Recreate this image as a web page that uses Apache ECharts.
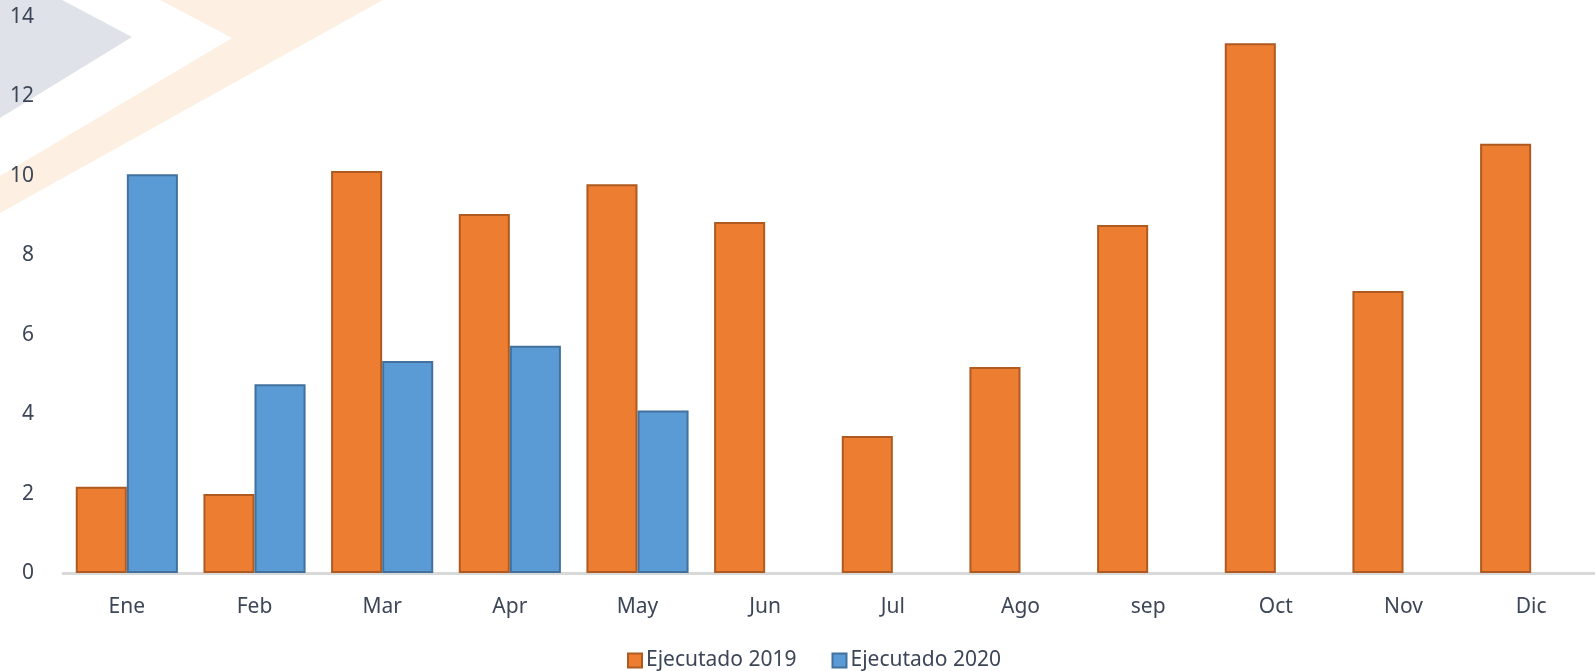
<!DOCTYPE html>
<html>
<head>
<meta charset="utf-8">
<script src="https://cdn.jsdelivr.net/npm/echarts@6/dist/echarts.min.js"></script>
<style>
html,body{margin:0;padding:0;background:#fff;}
#chart{width:1595px;height:671px;}
</style>
</head>
<body>
<div id="chart"></div>
<script>
const categories = ['Ene','Feb','Mar','Apr','May','Jun','Jul','Ago','sep','Oct','Nov','Dic'];
const ejecutado2019 = [2.17, 1.99, 10.12, 9.04, 9.79, 8.84, 3.45, 5.19, 8.76, 13.34, 7.10, 10.81];
const ejecutado2020 = [10.04, 4.75, 5.34, 5.72, 4.09, null, null, null, null, null, null, null];
const seriesNames = ['Ejecutado 2019', 'Ejecutado 2020'];

const chart = echarts.init(document.getElementById('chart'));
const textColor = '#3d4657';
const font = 'Noto Sans';
chart.setOption({
  animation: false,
  backgroundColor: '#ffffff',
  graphic: [
    { type: 'polygon', z: -10, silent: true,
      shape: { points: [[0,0],[62,0],[132,37],[0,118]] },
      style: { fill: '#dfe2e8' } },
    { type: 'polygon', z: -10, silent: true,
      shape: { points: [[160,0],[383,0],[0,213],[0,176],[232,38]] },
      style: { fill: '#fdf0e2' } }
  ],
  grid: { left: 63, right: 0, top: 17, bottom: 98, containLabel: false },
  legend: {
    data: seriesNames,
    top: 650,
    left: 627,
    padding: 0,
    itemWidth: 14,
    itemHeight: 14,
    itemGap: 35,
    icon: 'rect',
    textStyle: { color: textColor, fontSize: 21, fontFamily: font, padding: [0,0,0,-1] }
  },
  xAxis: {
    type: 'category',
    data: categories,
    axisLine: { lineStyle: { color: '#d9d9d9', width: 3 } },
    axisTick: { show: false },
    axisLabel: { color: textColor, fontSize: 21, fontFamily: font, margin: 24 }
  },
  yAxis: {
    type: 'value',
    min: 0, max: 14, interval: 2,
    splitLine: { show: false },
    axisLine: { show: false },
    axisTick: { show: false },
    axisLabel: { color: textColor, fontSize: 21, fontFamily: font, margin: 29 }
  },
  series: [
    { name: seriesNames[0], type: 'bar', data: ejecutado2019,
      barGap: '0%', barCategoryGap: '20%',
      itemStyle: { color: '#ED7D31', borderColor: '#AE5A21', borderWidth: 2 } },
    { name: seriesNames[1], type: 'bar', data: ejecutado2020,
      itemStyle: { color: '#5B9BD5', borderColor: '#41719C', borderWidth: 2 } }
  ]
});
</script>
</body>
</html>
